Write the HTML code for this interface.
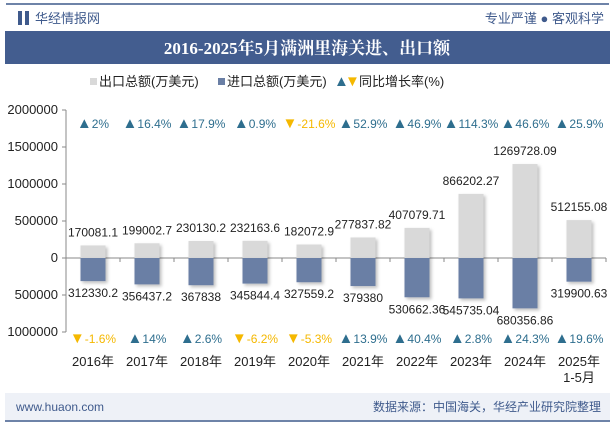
<!DOCTYPE html>
<html><head><meta charset="utf-8"><style>
body{margin:0;width:615px;height:427px;background:#fff;overflow:hidden;font-family:"Liberation Sans","Noto Sans CJK SC",sans-serif;}
svg{display:block}
</style></head><body>
<svg id="c" width="615" height="427" xmlns="http://www.w3.org/2000/svg">
<defs><filter id="sh" x="-30%" y="-30%" width="160%" height="160%"><feDropShadow dx="2" dy="2" stdDeviation="1.5" flood-color="#000" flood-opacity="0.25"/></filter></defs>
<line x1="6" y1="4" x2="609" y2="4" stroke="#3f5a8c" stroke-width="1.5"/>
<rect x="18" y="11" width="4" height="14" fill="#3f5a8c"/>
<rect x="25" y="11" width="4" height="14" fill="#3f5a8c"/>
<text x="35" y="23" font-size="13" fill="#3f5a8c">华经情报网</text>
<text x="604" y="23" font-size="13" fill="#3f5a8c" text-anchor="end">专业严谨 ● 客观科学</text>
<rect x="5" y="31" width="605" height="33" fill="#435d8f"/>
<text x="307" y="54" font-size="17" font-weight="bold" fill="#fff" text-anchor="middle" font-family="Liberation Serif,'Noto Serif CJK SC',serif">2016-2025年5月满洲里海关进、出口额</text>
<g font-size="13" fill="#222">
<rect x="90" y="78" width="7" height="7" fill="#d9d9d9"/>
<text x="99" y="86">出口总额(万美元)</text>
<rect x="218" y="78" width="7" height="7" fill="#6a7fa5"/>
<text x="227" y="86">进口总额(万美元)</text>
<text x="334" y="86" font-size="15" fill="#2e6e8e">▲</text>
<text x="345" y="86" font-size="15" fill="#f5b800">▼</text>
<text x="359" y="86">同比增长率(%)</text>
</g>
<g id="plot"></g>
<rect x="5" y="393" width="605" height="27" fill="#eef1f7"/>
<line x1="5" y1="421" x2="610" y2="421" stroke="#3f5a8c" stroke-width="1.5"/>
<text x="16" y="411" font-size="12" fill="#3f5a8c">www.huaon.com</text>
<text x="601" y="411" font-size="12" fill="#3f5a8c" text-anchor="end">数据来源：中国海关，华经产业研究院整理</text>
</svg>
<script>
const categories=["2016年","2017年","2018年","2019年","2020年","2021年","2022年","2023年","2024年","2025年"];
const exportVals=[170081.1,199002.7,230130.2,232163.6,182072.9,277837.82,407079.71,866202.27,1269728.09,512155.08];
const importVals=[312330.2,356437.2,367838,345844.4,327559.2,379380,530662.36,545735.04,680356.86,319900.63];
const exportGrowth=[2,16.4,17.9,0.9,-21.6,52.9,46.9,114.3,46.6,25.9];
const importGrowth=[-1.6,14,2.6,-6.2,-5.3,13.9,40.4,2.8,24.3,19.6];
const yTicks=[2000000,1500000,1000000,500000,0,-500000,-1000000];
const NS="http://www.w3.org/2000/svg";
const g=document.getElementById('plot');
const x0=66,x1=606,y0v=258,ppu=74/1000000;
const y=v=>y0v-v*ppu;
const step=(x1-x0)/categories.length;
const cx=i=>x0+step*(i+0.5);
function mk(t,a,txt){const e=document.createElementNS(NS,t);for(const k in a)e.setAttribute(k,a[k]);if(txt!==undefined)e.textContent=txt;g.appendChild(e);return e;}
mk('line',{x1:x0,y1:y(2000000),x2:x0,y2:y(-1000000),stroke:'#888'});
yTicks.forEach(t=>{
 const l=mk('line',{x1:x0-4,y1:y(t),x2:x0,y2:y(t),stroke:'#888'});
 
 
 const tx=mk('text',{x:x0-8,y:y(t)+4,'font-size':13,fill:'#222','text-anchor':'end'},String(Math.abs(t)));
 
 
});
mk('line',{x1:x0,y1:y(0),x2:x1,y2:y(0),stroke:'#888'});
categories.forEach((c,i)=>{
 const x=cx(i),w=25;
 mk('line',{x1:x0+step*(i+1),y1:y(0),x2:x0+step*(i+1),y2:y(0)+4,stroke:'#888'});
 const b1=mk('rect',{x:x-w/2,y:y(exportVals[i]),width:w,height:y(0)-y(exportVals[i]),fill:'#d9d9d9',filter:'url(#sh)'});
 
 
 const b2=mk('rect',{x:x-w/2,y:y(0),width:w,height:y(-importVals[i])-y(0),fill:'#6a7fa5',filter:'url(#sh)'});
 
 
 const l1=mk('text',{x:x,y:y(exportVals[i])-9,'font-size':12,fill:'#222','text-anchor':'middle'},String(exportVals[i]));
 
 
 const l2=mk('text',{x:x,y:y(-importVals[i])+16,'font-size':12,fill:'#222','text-anchor':'middle'},String(importVals[i]));
 
 
 [[exportGrowth[i],128],[importGrowth[i],343]].forEach(([v,yy],k)=>{
  const up=v>=0;
  const t=mk('text',{x:x,y:yy,'font-size':12,fill:up?'#2e6e8e':'#f5b800','text-anchor':'middle'});
  const ts=document.createElementNS(NS,'tspan');
  ts.setAttribute('font-size','15');
  ts.textContent=up?'▲':'▼';
  t.appendChild(ts);
  t.appendChild(document.createTextNode(v+'%'));
  
  
 });
 const xl=mk('text',{x:x,y:366,'font-size':13,fill:'#222','text-anchor':'middle'},c);
 
 
 if(i===categories.length-1){
  const s=mk('text',{x:x,y:382,'font-size':13,fill:'#222','text-anchor':'middle'},'1-5月');
  
  
 }
});
</script>
</body></html>
